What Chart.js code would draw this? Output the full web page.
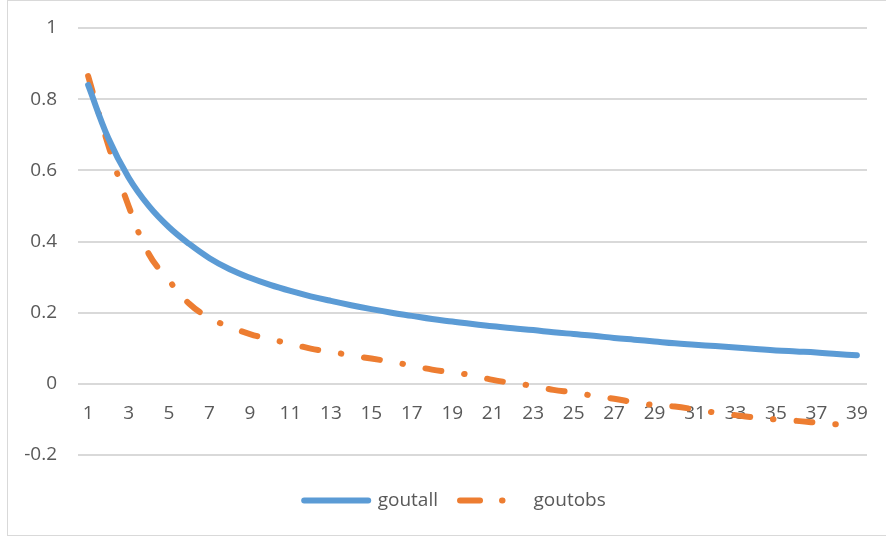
<!DOCTYPE html>
<html>
<head>
<meta charset="utf-8">
<script src="https://cdn.jsdelivr.net/npm/chart.js@4"></script>
<style>
  html, body { margin: 0; padding: 0; background: #ffffff; }
  #wrap { position: relative; width: 886px; height: 538px; }
</style>
</head>
<body>
<div id="wrap"><canvas id="chart"></canvas></div>
<script>
// Category labels along the x axis
const categories = ['1','2','3','4','5','6','7','8','9','10','11','12','13','14','15','16','17','18','19','20',
  '21','22','23','24','25','26','27','28','29','30','31','32','33','34','35','36','37','38','39'];

// goutall series
const goutall = [0.84, 0.69, 0.58, 0.5, 0.44, 0.393, 0.353, 0.322, 0.298, 0.278,
  0.261, 0.246, 0.233, 0.221, 0.21, 0.2, 0.191, 0.182, 0.175, 0.168,
  0.162, 0.156, 0.151, 0.145, 0.14, 0.135, 0.129, 0.124, 0.119, 0.114,
  0.11, 0.106, 0.102, 0.098, 0.094, 0.091, 0.088, 0.084, 0.08];

// goutobs series
const goutobs = [0.865, 0.67, 0.5, 0.365, 0.29, 0.225, 0.185, 0.16, 0.14, 0.125,
  0.113, 0.099, 0.09, 0.08, 0.071, 0.062, 0.051, 0.04, 0.032, 0.024,
  0.011, 0.002, -0.006, -0.017, -0.024, -0.034, -0.042, -0.052, -0.06, -0.064,
  -0.072, -0.081, -0.088, -0.095, -0.1, -0.104, -0.109, -0.114, -0.117];

// Value axis range and step
const yMin = -0.2;
const yMax = 1;
const yStep = 0.2;

const TEXT = '#595959';
const GRID = '#d9d9d9';
const FONT = '"Open Sans", Lato, sans-serif';

// Thin grey frame round the whole chart
const framePlugin = {
  id: 'frame',
  beforeDraw(chart) {
    const ctx = chart.ctx;
    ctx.save();
    ctx.fillStyle = '#ffffff';
    ctx.fillRect(0, 0, chart.width, chart.height);
    ctx.strokeStyle = '#d9d9d9';
    ctx.lineWidth = 1;
    ctx.strokeRect(7.5, 0.5, chart.width, 535);
    ctx.restore();
  }
};

new Chart(document.getElementById('chart'), {
  type: 'line',
  data: {
    labels: categories,
    datasets: [
      {
        label: 'goutall',
        data: goutall,
        borderColor: '#5b9bd5',
        backgroundColor: '#5b9bd5',
        borderWidth: 6,
        borderCapStyle: 'round',
        borderJoinStyle: 'round',
        pointRadius: 0,
        tension: 0.4,
        fill: false
      },
      {
        label: 'goutobs',
        data: goutobs,
        borderColor: '#ed7d31',
        backgroundColor: '#ed7d31',
        borderWidth: 6,
        borderCapStyle: 'round',
        borderJoinStyle: 'round',
        borderDash: [16, 23, 0.5, 23],
        pointRadius: 0,
        tension: 0.4,
        fill: false
      }
    ]
  },
  options: {
    responsive: true,
    maintainAspectRatio: false,
    animation: false,
    layout: { padding: { left: 24, right: 0, top: 28, bottom: 18 } },
    plugins: {
      tooltip: { enabled: false },
      legend: {
        position: 'bottom',
        labels: {
          usePointStyle: true,
          pointStyleWidth: 64,
          padding: 22,
          color: TEXT,
          font: { family: FONT, size: 19 },
          generateLabels(chart) {
            const items = Chart.defaults.plugins.legend.labels.generateLabels(chart);
            items.forEach(item => {
              item.pointStyle = 'line';
              item.lineCap = 'round';
              item.lineWidth = 6;
              item.lineDash = item.datasetIndex === 1 ? [20, 22, 0.5, 22, 0.5, 40] : [];
            });
            return items;
          }
        }
      }
    },
    scales: {
      x: {
        type: 'category',
        position: { y: 0 },
        offset: true,
        grid: { display: false, drawTicks: false },
        border: { display: false },
        ticks: {
          autoSkip: false,
          maxRotation: 0,
          minRotation: 0,
          padding: 18,
          color: TEXT,
          font: { family: FONT, size: 19 },
          callback(value, index) {
            return index % 2 === 0 ? categories[index] : '';
          }
        }
      },
      // empty gap between the plot and the legend
      xGap: {
        type: 'linear',
        position: 'bottom',
        display: true,
        grid: { display: false, drawTicks: false },
        border: { display: false },
        ticks: { display: false },
        afterFit(scale) { scale.height = 14; scale.paddingLeft = 0; scale.paddingRight = 0; }
      },
      y: {
        min: yMin,
        max: yMax,
        grid: { color: GRID, lineWidth: 2, drawTicks: false },
        border: { display: false },
        ticks: {
          stepSize: yStep,
          padding: 21,
          color: TEXT,
          font: { family: FONT, size: 19 },
          callback(value) { return String(Number(value.toFixed(1))); }
        },
        afterFit(scale) { scale.width = 54; scale.paddingTop = 0; scale.paddingBottom = 0; }
      },
      // empty spacer on the right edge of the plot
      yRight: {
        position: 'right',
        display: true,
        grid: { display: false, drawTicks: false },
        border: { display: false },
        ticks: { display: false },
        afterFit(scale) { scale.width = 17; scale.paddingTop = 0; scale.paddingBottom = 0; }
      }
    }
  },
  plugins: [framePlugin]
});
</script>
</body>
</html>
